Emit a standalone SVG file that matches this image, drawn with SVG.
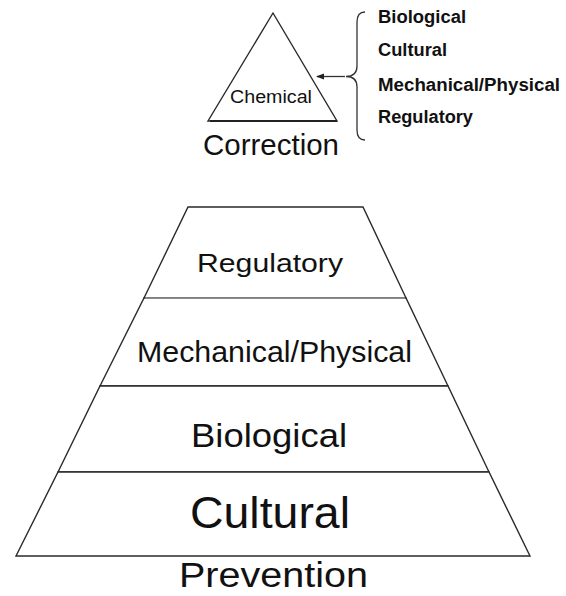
<svg xmlns="http://www.w3.org/2000/svg" width="566" height="596" viewBox="0 0 566 596">
<defs>
<style>
.shape{fill:#fff;stroke:#2a2a2a;stroke-width:1.4;stroke-linejoin:miter}
.lbl{font-family:"Liberation Sans",Arial,sans-serif;fill:#111}
.bold{font-family:"Liberation Sans",Arial,sans-serif;font-weight:bold;fill:#111;font-size:18px}
.conn{fill:none;stroke:#333;stroke-width:1.3}
</style>
<marker id="arr" markerWidth="8" markerHeight="8" refX="7" refY="4" orient="auto" markerUnits="userSpaceOnUse">
<path d="M0,1 L8,4 L0,7 Z" fill="#222"/>
</marker>
</defs>
<rect width="566" height="596" fill="#fff"/>

<g id="chemical">
<polygon class="shape" points="273,13 208,121 337,121"/>
<line x1="210" y1="121" x2="337" y2="121" stroke="#222" stroke-width="2.2"/>
<text class="lbl" x="230" y="103" font-size="17.5" textLength="82" lengthAdjust="spacingAndGlyphs">Chemical</text>
</g>
<g id="correction">
<text class="lbl" x="203" y="155" font-size="30" textLength="136" lengthAdjust="spacingAndGlyphs">Correction</text>
</g>

<g id="list">
<text class="bold" x="378" y="23" textLength="88" lengthAdjust="spacingAndGlyphs">Biological</text>
<text class="bold" x="378" y="55.5" textLength="69" lengthAdjust="spacingAndGlyphs">Cultural</text>
<text class="bold" x="378" y="91" textLength="182" lengthAdjust="spacingAndGlyphs">Mechanical/Physical</text>
<text class="bold" x="378" y="123" textLength="95" lengthAdjust="spacingAndGlyphs">Regulatory</text>
</g>

<g id="connectors">
<path class="conn" d="M365,12 Q357,12 357,22 L357,66 Q357,76.5 346,76.5 Q357,76.5 357,87 L357,130 Q357,140 365,140"/>
<line class="conn" x1="345" y1="76.5" x2="317" y2="76.5" marker-end="url(#arr)"/>
</g>

<g id="layer-regulatory">
<polygon class="shape" points="188,207 363,207 406,298 144,298"/>
<text class="lbl" x="197" y="272" font-size="26" textLength="146" lengthAdjust="spacingAndGlyphs">Regulatory</text>
</g>
<g id="layer-mechanical">
<polygon class="shape" points="144,298 406,298 448,386 100,386"/>
<text class="lbl" x="137" y="362" font-size="29" textLength="275" lengthAdjust="spacingAndGlyphs">Mechanical/Physical</text>
</g>
<g id="layer-biological">
<polygon class="shape" points="100,386 448,386 489,472 58,472"/>
<text class="lbl" x="191" y="447" font-size="34" textLength="156" lengthAdjust="spacingAndGlyphs">Biological</text>
</g>
<g id="layer-cultural">
<polygon class="shape" points="58,472 489,472 530,556 16,556"/>
<text class="lbl" x="190" y="528" font-size="44" textLength="160" lengthAdjust="spacingAndGlyphs">Cultural</text>
</g>
<line x1="145" y1="298" x2="405" y2="298" stroke="#9a9a9a" stroke-width="1.6"/>
<g id="prevention">
<text class="lbl" x="179" y="587" font-size="35" textLength="189" lengthAdjust="spacingAndGlyphs">Prevention</text>
</g>
</svg>
